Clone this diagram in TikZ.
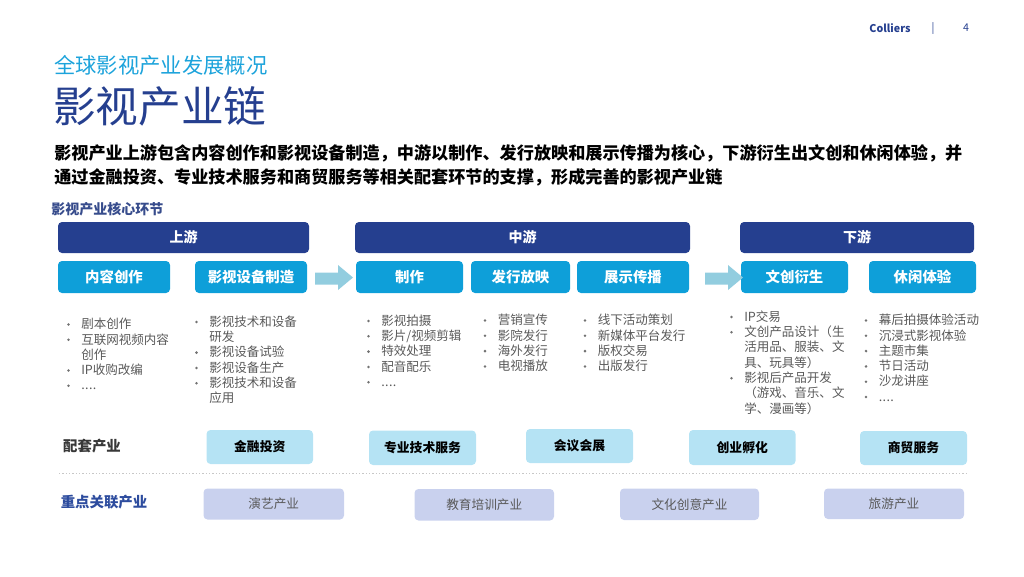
\documentclass[tikz,border=0pt]{standalone}
\usepackage{fontspec}
\setmainfont{Noto Sans CJK SC}
\usetikzlibrary{fit}
\definecolor{navy}{HTML}{253F8F}
\definecolor{skyb}{HTML}{0E9FD9}
\definecolor{arrowc}{HTML}{92CDDF}
\definecolor{paleb}{HTML}{B5E3F4}
\definecolor{lav}{HTML}{C9D1EE}
\definecolor{tgray}{HTML}{595959}
\definecolor{subblue}{HTML}{1CA3DB}
\definecolor{lblue}{HTML}{2D4C9E}
\newcommand\fsz[1]{\fontsize{#1}{#1}\selectfont}
\newcommand\fdots{.\kern0.3pt.\kern0.3pt.\kern0.3pt.}
\newcommand\fslash{/}
\newcommand\bulletcol[4]{%
  \foreach \k/\t [count=\i from 0] in {#4} {
    \node[btxt] (#1t\i) at (#2+12.5, #3+\i*15.3) {\t};
    \ifnum\k=1 \node[bdot] (#1b\i) at (#2, #3+\i*15.3+0.5) {};\fi
  }}
% box with centred label: #1 style, #2 name, #3 corner1, #4 corner2, #5 text
\newcommand\lbox[5]{%
  \node[#1, fit={#3 #4}] (#2) {};
  \node[#1 text] (#2-l) at (#2.center) {#5};}
\begin{document}
\begin{tikzpicture}[x=0.75pt,y=-0.75pt,
  hdr/.style={fill=navy, rounded corners=3pt, inner sep=0pt},
  hdr text/.style={inner sep=0pt, text=white, font=\fsz{10.5}\bfseries},
  sub/.style={fill=skyb, rounded corners=3pt, inner sep=0pt},
  sub text/.style={inner sep=0pt, text=white, font=\fsz{10.8}\bfseries},
  supp/.style={fill=paleb, rounded corners=3pt, inner sep=0pt},
  supp text/.style={inner sep=0pt, text=black, font=\fsz{9.6}\bfseries},
  rel/.style={fill=lav, rounded corners=3pt, inner sep=0pt},
  rel text/.style={inner sep=0pt, text=tgray, font=\fsz{9.5}},
  btxt/.style={anchor=west, inner sep=0pt, text=tgray, font=\fsz{9.4}, text height=8.2pt, text depth=1.1pt},
  bdot/.style={circle, fill=tgray!85, inner sep=0pt, minimum size=2.1pt},
  arr/.style={fill=arrowc}
]
\useasboundingbox (0,0) rectangle (1024,576);
% header
\node[font=\fsz{8}\bfseries, text=navy] (colliers) at (890,28) {Colliers};
\node[font=\fsz{8}, text=navy] (bar) at (933,28.5) {|};
\node[font=\fsz{8}, text=navy] (page) at (966,28) {4};
\node[anchor=west, inner sep=0pt, font=\fsz{16}, text=subblue] (subtitle) at (54,65) {全球影视产业发展概况};
\node[anchor=west, inner sep=0pt, font=\fsz{32}, text=navy] (title) at (53,106) {影视产业链};
\node[anchor=west, inner sep=0pt, font=\fsz{12.85}\bfseries, text=black] (body1) at (54,153) {影视产业上游包含内容创作和影视设备制造，中游以制作、发行放映和展示传播为核心，下游衍生出文创和休闲体验，并};
\node[anchor=west, inner sep=0pt, font=\fsz{12.85}\bfseries, text=black] (body2) at (54,177) {通过金融投资、专业技术服务和商贸服务等相关配套环节的支撑，形成完善的影视产业链};
\node[anchor=west, inner sep=0pt, font=\fsz{10.5}\bfseries, text=navy!80!gray] (core) at (51,209) {影视产业核心环节};
% stage headers
\lbox{hdr}{up}{(58,222)}{(309,253)}{上游}
\lbox{hdr}{mid}{(355,222)}{(690,253)}{中游}
\lbox{hdr}{down}{(740,222)}{(974,253)}{下游}
% sub boxes
\lbox{sub}{s1}{(58,261)}{(170,293)}{内容创作}
\lbox{sub}{s2}{(195,261)}{(307,293)}{影视设备制造}
\lbox{sub}{s3}{(356,261)}{(463,293)}{制作}
\lbox{sub}{s4}{(471,261)}{(570,293)}{发行放映}
\lbox{sub}{s5}{(577,261)}{(689,293)}{展示传播}
\lbox{sub}{s6}{(741,261)}{(848,293)}{文创衍生}
\lbox{sub}{s7}{(869,261)}{(976,293)}{休闲体验}
% block arrows
\fill[arr] (315,272.5) -- (338,272.5) -- (338,265) -- (353,277.5) -- (338,290) -- (338,284.5) -- (315,284.5) -- cycle;
\fill[arr] (705,272.5) -- (728,272.5) -- (728,265) -- (743,277.5) -- (728,290) -- (728,284.5) -- (705,284.5) -- cycle;
% bullet lists
\bulletcol{a}{68.5}{324}{1/剧本创作,1/互联网视频内容,0/创作,1/IP收购改编,1/\fdots}
\bulletcol{b}{196.5}{321.5}{1/影视技术和设备,0/研发,1/影视设备试验,1/影视设备生产,1/影视技术和设备,0/应用}
\bulletcol{c}{368.5}{320.5}{1/影视拍摄,1/影片\fslash 视频剪辑,1/特效处理,1/配音配乐,1/\fdots}
\bulletcol{d}{485}{320}{1/营销宣传,1/影院发行,1/海外发行,1/电视播放}
\bulletcol{e}{585}{320}{1/线下活动策划,1/新媒体平台发行,1/版权交易,1/出版发行}
\bulletcol{f}{731.5}{316.5}{1/IP交易,1/文创产品设计（生,0/活用品、服装、文,0/具、玩具等）,1/影视后产品开发,0/（游戏、音乐、文,0/学、漫画等）}
\bulletcol{g}{866}{320}{1/幕后拍摄体验活动,1/沉浸式影视体验,1/主题市集,1/节日活动,1/沙龙讲座,1/\fdots}
% supporting industries
\node[inner sep=0pt, font=\fsz{10.8}\bfseries, text=black!78] (lsupp) at (92,446.5) {配套产业};
\lbox{supp}{p1}{(206.5,430)}{(313,464)}{金融投资}
\lbox{supp}{p2}{(369,430.5)}{(476,465)}{专业技术服务}
\lbox{supp}{p3}{(526,429)}{(633,463)}{会议会展}
\lbox{supp}{p4}{(689,430)}{(795.5,465)}{创业孵化}
\lbox{supp}{p5}{(860,431)}{(967,465)}{商贸服务}
% dotted separator
\coordinate (dl) at (59,473.5);
\coordinate (dr) at (966,473.5);
\draw[black!22, line width=1pt, dash pattern=on 1pt off 1.5pt] (dl) -- (dr);
% related industries
\node[inner sep=0pt, font=\fsz{10.8}\bfseries, text=lblue] (lrel) at (104,502.5) {重点关联产业};
\lbox{rel}{r1}{(203.5,488.5)}{(344,519.5)}{演艺产业}
\lbox{rel}{r2}{(414.5,489)}{(554,520.5)}{教育培训产业}
\lbox{rel}{r3}{(620,488.5)}{(759,520)}{文化创意产业}
\lbox{rel}{r4}{(824,488.5)}{(964,519)}{旅游产业}
\end{tikzpicture}
\end{document}
